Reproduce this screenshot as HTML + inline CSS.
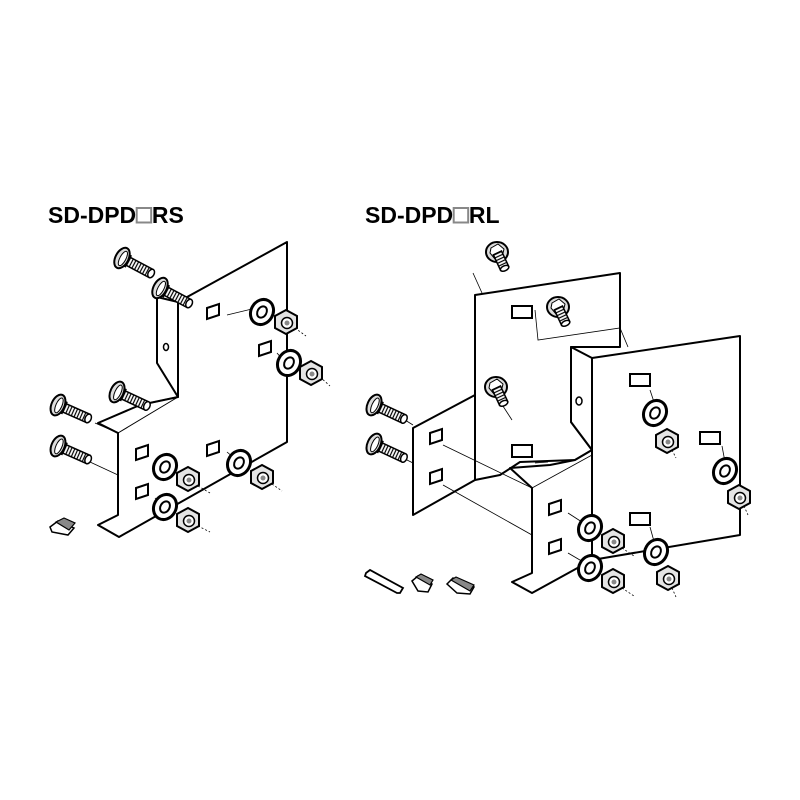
<!DOCTYPE html>
<html><head><style>
html,body{margin:0;padding:0;background:#fff;}
svg{display:block;}
text{font-family:"Liberation Sans",Arial,sans-serif;font-weight:bold;font-size:23px;fill:#000;}
</style></head><body>
<svg width="800" height="800" viewBox="0 0 800 800" xmlns="http://www.w3.org/2000/svg">
<defs>
<pattern id="thr" width="3" height="10" patternUnits="userSpaceOnUse">
<rect width="3" height="10" fill="#fff"/><line x1="1.5" y1="0" x2="1.5" y2="10" stroke="#000" stroke-width="1.2"/>
</pattern>
<g id="bolt">
<rect x="3" y="-4.5" width="30" height="9" fill="url(#thr)" stroke="#000" stroke-width="1.5"/>
<ellipse cx="33" cy="0" rx="3" ry="4.5" fill="#fff" stroke="#000" stroke-width="1.5"/>
<rect x="0" y="-6" width="7" height="12" fill="#fff" stroke="#000" stroke-width="1.5"/>
<ellipse cx="0" cy="0" rx="6.5" ry="11" fill="#ddd" stroke="#000" stroke-width="2"/>
<ellipse cx="1" cy="0" rx="3" ry="8" fill="#fff" stroke="#000" stroke-width="1"/>
</g>
<g id="ebolt">
<ellipse cx="0" cy="0" rx="11" ry="10" fill="#ddd" stroke="#000" stroke-width="2"/>
<polygon points="-6,-4 1,-8 7,-3 5,5 -2,7 -7,1" fill="#fff" stroke="#000" stroke-width="1"/>
<g transform="rotate(65)"><rect x="1" y="-4.5" width="17" height="9" fill="url(#thr)" stroke="#000" stroke-width="1.5"/>
<ellipse cx="18" cy="0" rx="2.5" ry="4.5" fill="#fff" stroke="#000" stroke-width="1.5"/></g>
</g>
<g id="washer">
<ellipse cx="0" cy="0" rx="11" ry="13" fill="#fff" stroke="#000" stroke-width="3" transform="rotate(30)"/>
<ellipse cx="0" cy="0" rx="4.5" ry="6" fill="#fff" stroke="#000" stroke-width="2" transform="rotate(30)"/>
</g>
<g id="nut">
<polygon points="0,-12 11,-6 11,6 0,12 -11,6 -11,-6" fill="#e4e4e4" stroke="#000" stroke-width="2"/>
<circle cx="1" cy="1" r="5.5" fill="#fff" stroke="#000" stroke-width="1.5"/>
<circle cx="1" cy="1" r="2.5" fill="#888"/>
</g>
<polygon id="slot" points="0,0 12,-4 12,7 0,11" fill="#fff" stroke="#000" stroke-width="2"/>
<rect id="hslot" x="0" y="0" width="20" height="12" fill="#fff" stroke="#000" stroke-width="2"/>
</defs>

<text x="48" y="223">SD-DPD<tspan font-weight="normal" fill="#fff" stroke="#888" stroke-width="1" font-size="26">□</tspan>RS</text>
<text x="365" y="223">SD-DPD<tspan font-weight="normal" fill="#fff" stroke="#888" stroke-width="1" font-size="26">□</tspan>RL</text>

<!-- LEFT -->
<g fill="#fff" stroke="#000" stroke-width="2" stroke-linejoin="round">
<polygon points="178,302 287,242 287,442 119,537 98,525 118,515 118,433 98,423 140,405 178,397"/>
<polygon points="157,297 178,302 178,397 157,363" />
<line x1="118" y1="433" x2="178" y2="397" stroke-width="1"/>
<line x1="140" y1="405" x2="178" y2="397" stroke-width="1.5"/>
</g>
<ellipse cx="166" cy="347" rx="2.5" ry="3.5" fill="#fff" stroke="#000" stroke-width="1.5"/>
<g stroke="#000" stroke-width="0.8">
<line x1="95" y1="423" x2="118" y2="433"/><line x1="90" y1="462" x2="118" y2="475"/>
<line x1="227" y1="315" x2="256" y2="308"/><line x1="277" y1="353" x2="283" y2="360"/>
<line x1="155" y1="460" x2="165" y2="467"/><line x1="227" y1="452" x2="240" y2="463"/>
<line x1="155" y1="498" x2="165" y2="507"/>
<line x1="295" y1="328" x2="306" y2="336" stroke-dasharray="2,2"/><line x1="320" y1="377" x2="330" y2="386" stroke-dasharray="2,2"/>
<line x1="198" y1="486" x2="210" y2="493" stroke-dasharray="2,2"/><line x1="272" y1="484" x2="282" y2="491" stroke-dasharray="2,2"/>
<line x1="198" y1="526" x2="210" y2="532" stroke-dasharray="2,2"/>
</g>
<use href="#slot" x="207" y="308"/><use href="#slot" x="259" y="345"/>
<use href="#slot" x="136" y="449"/><use href="#slot" x="207" y="445"/><use href="#slot" x="136" y="488"/>
<use href="#bolt" transform="translate(122,258) rotate(28)"/>
<use href="#bolt" transform="translate(160,288) rotate(28)"/>
<use href="#bolt" transform="translate(117,392) rotate(25)"/>
<use href="#bolt" transform="translate(58,405) rotate(24)"/>
<use href="#bolt" transform="translate(58,446) rotate(24)"/>
<use href="#washer" x="262" y="312"/><use href="#nut" x="286" y="322"/>
<use href="#washer" x="289" y="363"/><use href="#nut" x="311" y="373"/>
<use href="#washer" x="165" y="467"/><use href="#nut" x="188" y="479"/>
<use href="#washer" x="239" y="463"/><use href="#nut" x="262" y="477"/>
<use href="#washer" x="165" y="507"/><use href="#nut" x="188" y="520"/>
<polygon points="50,527 58,521 74,528 68,535 52,532" fill="#fff" stroke="#000" stroke-width="1.5"/>
<polygon points="56,522 64,518 75,523 69,530" fill="#888" stroke="#000" stroke-width="1.2"/>

<!-- RIGHT -->
<g fill="#fff" stroke="#000" stroke-width="2" stroke-linejoin="round">
<polygon points="475,295 620,273 620,347 571,347 571,422 592,450 575,460 520,462 500,475 475,480"/>
<polygon points="413,428 475,395 475,480 413,515"/>
<polygon points="592,358 740,336 740,535 592,560"/>
<polygon points="571,347 592,358 592,450 571,422"/>
<polygon points="532,488 510,468 550,465 575,460 592,450 592,560 532,593 512,582 532,573"/>
</g>
<g stroke="#000" stroke-width="0.8" fill="none">
<line x1="532" y1="488" x2="592" y2="455"/>
<polyline points="535,310 538,340 620,328 628,347"/>
<line x1="443" y1="445" x2="532" y2="488"/><line x1="443" y1="485" x2="532" y2="535"/>
<line x1="499" y1="400" x2="512" y2="420"/>
<line x1="405" y1="420" x2="413" y2="425"/><line x1="405" y1="459" x2="413" y2="463"/>
<line x1="473" y1="273" x2="482" y2="293"/>
<line x1="650" y1="390" x2="655" y2="405"/><line x1="722" y1="446" x2="725" y2="462"/>
<line x1="650" y1="527" x2="655" y2="545"/>
<line x1="568" y1="513" x2="585" y2="524"/><line x1="568" y1="553" x2="585" y2="563"/>
<line x1="535" y1="463" x2="548" y2="462"/>
<line x1="672" y1="450" x2="676" y2="458" stroke-dasharray="2,2"/><line x1="744" y1="506" x2="748" y2="515" stroke-dasharray="2,2"/>
<line x1="622" y1="548" x2="634" y2="556" stroke-dasharray="2,2"/><line x1="622" y1="588" x2="634" y2="596" stroke-dasharray="2,2"/>
<line x1="672" y1="588" x2="676" y2="597" stroke-dasharray="2,2"/>
</g>
<ellipse cx="579" cy="401" rx="3" ry="4" fill="#fff" stroke="#000" stroke-width="1.5"/>
<use href="#hslot" x="512" y="306"/><use href="#hslot" x="512" y="445"/>
<use href="#hslot" x="630" y="374"/><use href="#hslot" x="700" y="432"/><use href="#hslot" x="630" y="513"/>
<use href="#slot" x="430" y="433"/><use href="#slot" x="430" y="473"/>
<use href="#slot" x="549" y="504"/><use href="#slot" x="549" y="543"/>
<use href="#ebolt" x="497" y="252"/><use href="#ebolt" x="558" y="307"/><use href="#ebolt" x="496" y="387"/>
<use href="#bolt" transform="translate(374,405) rotate(25)"/>
<use href="#bolt" transform="translate(374,444) rotate(25)"/>
<use href="#washer" x="655" y="413"/><use href="#nut" x="667" y="441"/>
<use href="#washer" x="725" y="471"/><use href="#nut" x="739" y="497"/>
<use href="#washer" x="590" y="528"/><use href="#nut" x="613" y="541"/>
<use href="#washer" x="590" y="568"/><use href="#nut" x="613" y="581"/>
<use href="#washer" x="656" y="552"/><use href="#nut" x="668" y="578"/>
<polygon points="366,573 370,570 403,588 400,593 397,593 365,576" fill="#fff" stroke="#000" stroke-width="1.8"/>
<polygon points="412,581 418,576 432,584 428,592 418,591" fill="#fff" stroke="#000" stroke-width="1.5"/>
<polygon points="416,577 421,574 433,580 430,585" fill="#888" stroke="#000" stroke-width="1.2"/>
<polygon points="447,584 453,578 474,587 470,594 457,593" fill="#fff" stroke="#000" stroke-width="1.5"/>
<polygon points="451,580 456,577 474,585 470,591" fill="#888" stroke="#000" stroke-width="1.2"/>
</svg>
</body></html>
